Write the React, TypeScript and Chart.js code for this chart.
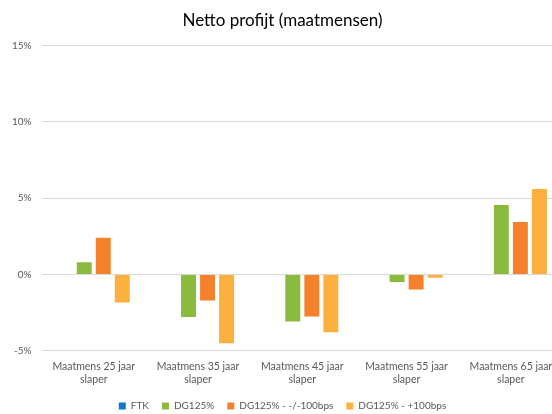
import React, { useEffect, useRef } from "react";
import { Chart, registerables } from "chart.js";

Chart.register(...registerables);

const categories: string[][] = [
  ["Maatmens 25 jaar", "slaper"],
  ["Maatmens 35 jaar", "slaper"],
  ["Maatmens 45 jaar", "slaper"],
  ["Maatmens 55 jaar", "slaper"],
  ["Maatmens 65 jaar", "slaper"],
];

const ftk: number[] = [0, 0, 0, 0, 0];
const dg125: number[] = [0.8, -2.78, -3.08, -0.5, 4.54];
const dg125Down: number[] = [2.4, -1.7, -2.75, -0.98, 3.43];
const dg125Up: number[] = [-1.83, -4.5, -3.78, -0.22, 5.6];

const yTicks: number[] = [-5, 0, 5, 10, 15];

const FONT = "Lato, 'Open Sans', sans-serif";

export default function App() {
  const ref = useRef<HTMLCanvasElement | null>(null);

  useEffect(() => {
    document.body.style.margin = "0";
    if (!ref.current) return;
    const chart = new Chart(ref.current, {
      type: "bar",
      data: {
        labels: categories,
        datasets: [
          { label: "FTK", data: ftk, backgroundColor: "#0F7BC8" },
          { label: "DG125%", data: dg125, backgroundColor: "#8ABB3F" },
          { label: "DG125% - -/-100bps", data: dg125Down, backgroundColor: "#F5822A" },
          { label: "DG125% - +100bps", data: dg125Up, backgroundColor: "#FBB040" },
        ],
      },
      options: {
        animation: false,
        responsive: false,
        maintainAspectRatio: false,
        layout: { padding: { left: 2, right: 15, top: 0, bottom: 2 } },
        datasets: {
          bar: { categoryPercentage: 0.73, barPercentage: 0.785 },
        },
        plugins: {
          title: {
            display: true,
            text: "Netto profijt (maatmensen)",
            color: "#000000",
            font: { family: FONT, size: 17, weight: "normal" },
            padding: { top: 10, bottom: 15 },
          },
          legend: {
            position: "bottom",
            labels: {
              boxWidth: 7,
              boxHeight: 7,
              padding: 13,
              color: "#595959",
              font: { family: FONT, size: 10 },
            },
          },
          tooltip: { enabled: false },
        },
        scales: {
          x: {
            grid: { display: false },
            border: { display: false },
            ticks: {
              color: "#595959",
              font: { family: FONT, size: 10.5, lineHeight: 1.2 },
              maxRotation: 0,
              autoSkip: false,
              padding: 2,
            },
          },
          y: {
            min: -5,
            max: 15,
            afterBuildTicks: (axis: any) => {
              axis.ticks = yTicks.map((v) => ({ value: v }));
            },
            grid: { color: "#D9D9D9", lineWidth: 1, drawTicks: false },
            border: { display: false },
            ticks: {
              color: "#595959",
              font: { family: FONT, size: 10 },
              padding: 10,
              callback: (v: any) => `${v}%`,
            },
          },
        },
      },
    });
    return () => chart.destroy();
  }, []);

  return (
    <div style={{ width: 552, height: 414, overflow: "hidden", background: "#fff" }}>
      <canvas ref={ref} width={578} height={423} style={{ width: 578, height: 423, display: "block" }} />
    </div>
  );
}
